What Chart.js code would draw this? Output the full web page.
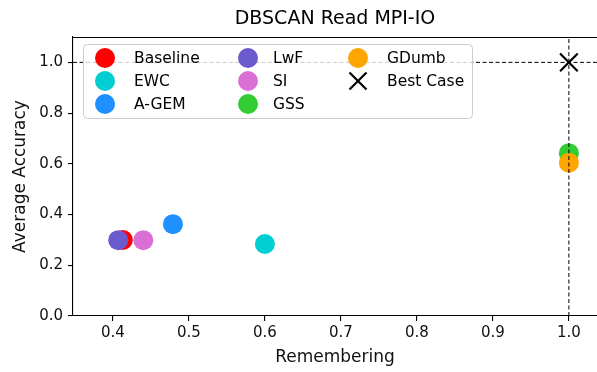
<!DOCTYPE html>
<html>
<head>
<meta charset="utf-8">
<style>
  html, body { margin: 0; padding: 0; background: #fff; }
</style>
</head>
<body>
<canvas id="myChart" width="597" height="372"></canvas>

<script src="https://cdn.jsdelivr.net/npm/chart.js"></script>

<script>
// values
const methods = ["Baseline", "EWC", "A-GEM", "LwF", "SI", "GSS", "GDumb"];
const remembering = [0.413, 0.600, 0.479, 0.407, 0.440, 1.000, 1.000];
const avgAccuracy = [0.300, 0.284, 0.362, 0.299, 0.299, 0.642, 0.604];
const colors = ["#ff0000", "#00ced1", "#1e90ff", "#6a5acd", "#da70d6", "#32cd32", "#ffa500"];
const bestCaseLabel = "Best Case";
const bestCase = [1.0, 1.0];
const xTicks = [0.4, 0.5, 0.6, 0.7, 0.8, 0.9, 1.0];
const yTicks = [0.0, 0.2, 0.4, 0.6, 0.8, 1.0];
const xRange = [0.3475, 1.037];
const yRange = [0, 1.1];
const titleText = "DBSCAN Read MPI-IO";

const FONT = "'DejaVu Sans', sans-serif";

const pointSets = methods.map((name, i) => ({
  label: name,
  data: [{ x: remembering[i], y: avgAccuracy[i] }],
  backgroundColor: colors[i],
  borderWidth: 0,
  pointRadius: 10,
  pointHoverRadius: 10,
  order: 50 - i
}));

const bestSet = {
  label: bestCaseLabel,
  data: [{ x: bestCase[0], y: bestCase[1] }],
  pointStyle: "crossRot",
  pointRadius: 12.5,
  pointHoverRadius: 12.5,
  borderColor: "#000",
  borderWidth: 2.2,
  order: 1
};

// dashed guides through the best case
const guideStyle = {
  showLine: true,
  borderColor: "#000",
  borderWidth: 1,
  borderDash: [4, 2.5],
  pointRadius: 0,
  pointHoverRadius: 0,
  order: 2
};
const vGuide = Object.assign({ label: "_v", data: [{ x: bestCase[0], y: yRange[0] }, { x: bestCase[0], y: yRange[1] }] }, guideStyle);
const hGuide = Object.assign({ label: "_h", data: [{ x: xRange[0], y: bestCase[1] }, { x: xRange[1], y: bestCase[1] }] }, guideStyle);

// matplotlib-like legend inside the axes, column major
const insideLegend = {
  id: "insideLegend",
  afterDraw(chart) {
    const { ctx, chartArea } = chart;
    const L = chartArea.left, T = chartArea.top;
    const colMarker = [32, 175, 285];
    const colText = [61, 200, 314];
    const rowY = [21, 44, 67];
    ctx.save();
    // box
    const bx = L + 10, by = T + 7, bw = 389, bh = 74, r = 4;
    ctx.beginPath();
    ctx.roundRect(bx + 0.5, by + 0.5, bw, bh, r);
    ctx.fillStyle = "rgba(255,255,255,0.8)";
    ctx.fill();
    ctx.strokeStyle = "#cccccc";
    ctx.lineWidth = 1;
    ctx.stroke();

    ctx.font = "15.5px " + FONT;
    ctx.textBaseline = "middle";
    ctx.fillStyle = "#000";
    const items = methods.concat([bestCaseLabel]);
    items.forEach((name, i) => {
      const c = Math.floor(i / 3), rw = i % 3;
      const mx = L + colMarker[c], my = T + rowY[rw];
      if (i < methods.length) {
        ctx.beginPath();
        ctx.arc(mx, my, 10, 0, Math.PI * 2);
        ctx.fillStyle = colors[i];
        ctx.fill();
      } else {
        const d = 8.5;
        ctx.beginPath();
        ctx.moveTo(mx - d, my - d); ctx.lineTo(mx + d, my + d);
        ctx.moveTo(mx - d, my + d); ctx.lineTo(mx + d, my - d);
        ctx.strokeStyle = "#000";
        ctx.lineWidth = 2.2;
        ctx.stroke();
      }
      ctx.fillStyle = "#000";
      ctx.fillText(name, L + colText[c], my + 1);
    });

    // title above the axes
    ctx.font = "19px " + FONT;
    ctx.textAlign = "center";
    ctx.fillText(titleText, (chartArea.left + chartArea.right) / 2, 19);

    // top spine
    ctx.beginPath();
    ctx.moveTo(chartArea.left, chartArea.top + 0.5);
    ctx.lineTo(chartArea.right, chartArea.top + 0.5);
    ctx.strokeStyle = "#000";
    ctx.lineWidth = 1.1;
    ctx.stroke();
    ctx.restore();
  }
};

const axisGrid = { drawOnChartArea: false, drawTicks: true, tickLength: 5, color: "#000", lineWidth: 1.1 };

const noPad = s => { s.paddingLeft = 0; s.paddingRight = 0; s.paddingTop = 0; s.paddingBottom = 0; };

const config = {
  type: "scatter",
  data: { datasets: [...pointSets, bestSet, vGuide, hGuide] },
  options: {
    responsive: false,
    animation: false,
    devicePixelRatio: 1,
    layout: { autoPadding: false, padding: { top: 37, left: 0, right: 0, bottom: 0 } },
    plugins: {
      legend: { display: false },
      title: { display: false },
      tooltip: { enabled: false }
    },
    scales: {
      x: {
        type: "linear",
        min: xRange[0],
        max: xRange[1],
        afterBuildTicks: s => { s.ticks = xTicks.map(v => ({ value: v })); },
        afterFit: s => { s.height = 56; noPad(s); },
        grid: axisGrid,
        border: { color: "#000", width: 1.1 },
        ticks: { color: "#111", font: { family: FONT, size: 15 }, padding: 3, maxRotation: 0, callback: v => v.toFixed(1) },
        title: { display: true, text: "Remembering", color: "#111", font: { family: FONT, size: 17 }, padding: { top: 0, bottom: 4 } }
      },
      y: {
        type: "linear",
        min: yRange[0],
        max: yRange[1],
        afterBuildTicks: s => { s.ticks = yTicks.map(v => ({ value: v })); },
        afterFit: s => { s.width = 73; noPad(s); },
        grid: axisGrid,
        border: { color: "#000", width: 1.1 },
        ticks: { color: "#111", font: { family: FONT, size: 15 }, padding: 5, callback: v => v.toFixed(1) },
        title: { display: true, text: "Average Accuracy", color: "#111", font: { family: FONT, size: 17 }, padding: { top: 10, bottom: 0 } }
      }
    }
  },
  plugins: [insideLegend]
};

const ctx = document.getElementById("myChart");
const resultsChart = new Chart(ctx, config);
</script>
</body>
</html>
